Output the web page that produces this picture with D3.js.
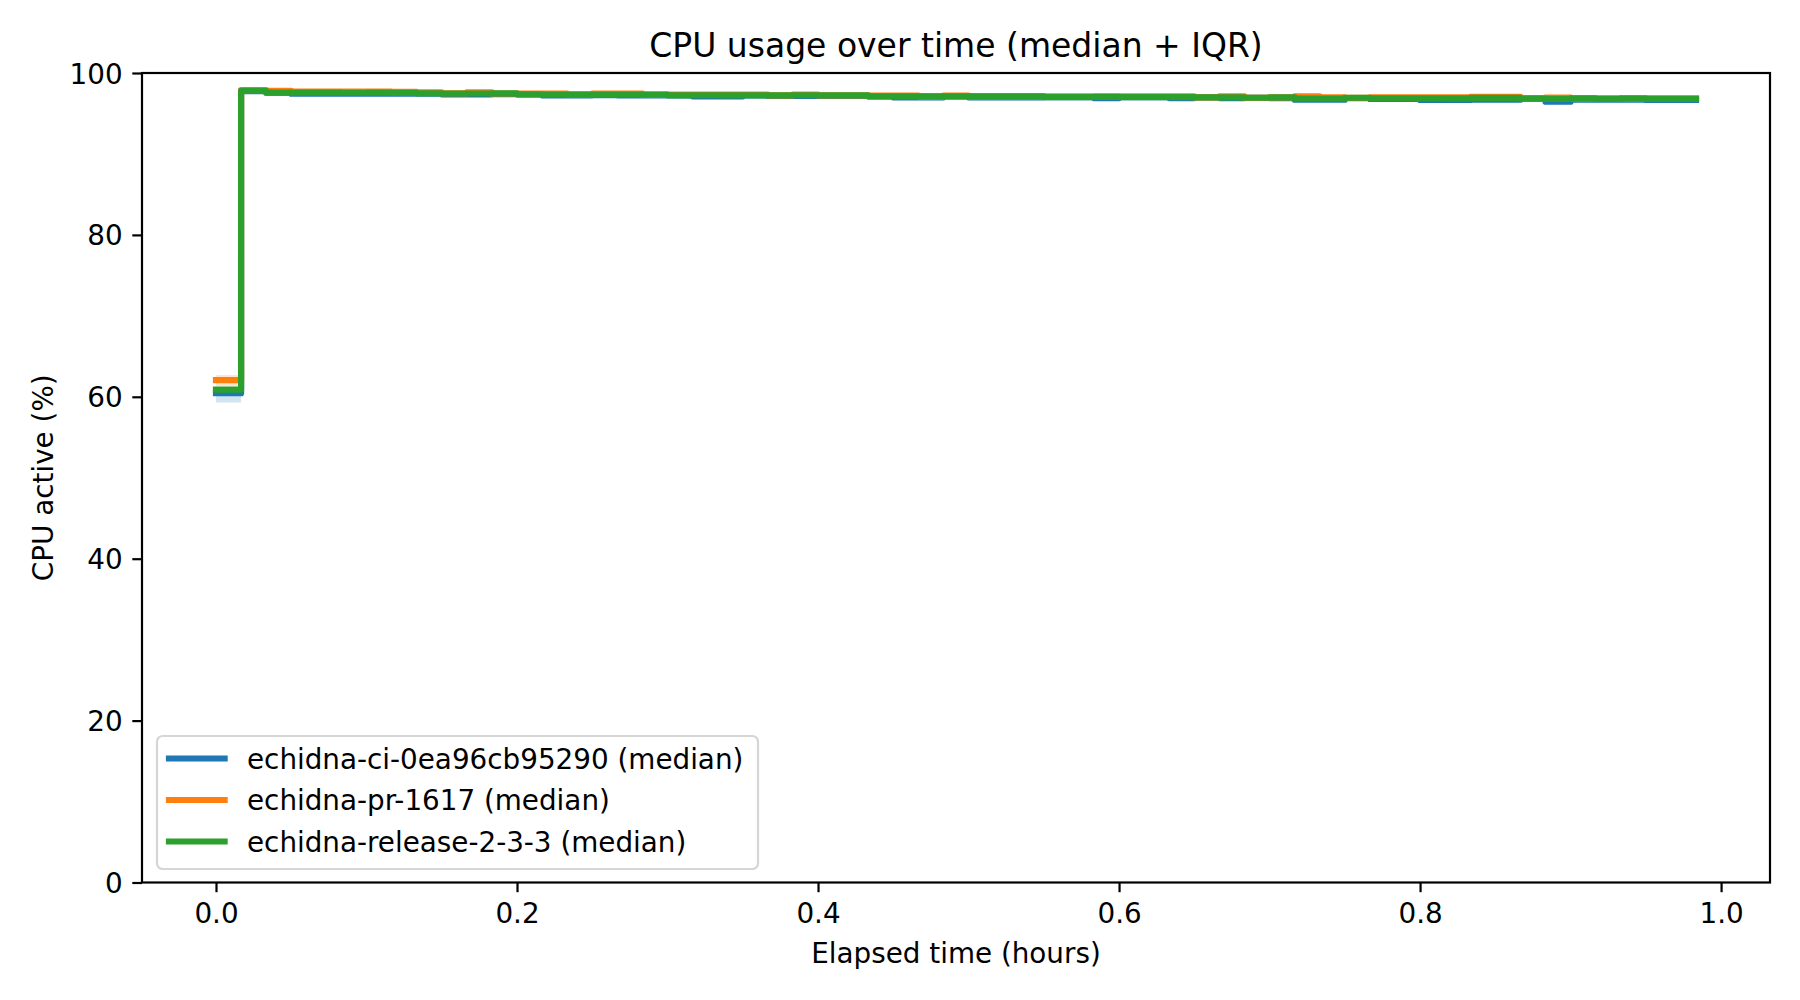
<!DOCTYPE html>
<html>
<head>
<meta charset="utf-8">
<script src="https://cdn.jsdelivr.net/npm/d3@7"></script>
<style>
  html, body { margin: 0; padding: 0; background: #ffffff; }
  svg { display: block; font-family: "DejaVu Sans", sans-serif; }
</style>
</head>
<body>
<svg id="chart" width="1800" height="1000"></svg>
<script>
// ---------------- DATA ----------------
const chartTitle = "CPU usage over time (median + IQR)";
const xLabel = "Elapsed time (hours)";
const yLabel = "CPU active (%)";

const seriesNames = [
  "echidna-ci-0ea96cb95290 (median)",
  "echidna-pr-1617 (median)",
  "echidna-release-2-3-3 (median)"
];
const seriesColors = ["#1f77b4", "#ff7f0e", "#2ca02c"];

const xTicks = [0.0, 0.2, 0.4, 0.6, 0.8, 1.0];
const yTicks = [0, 20, 40, 60, 80, 100];

// elapsed minutes of each sample
const elapsedMinutes = [0,1,2,3,4,5,6,7,8,9,10,11,12,13,14,15,16,17,18,19,20,21,22,23,24,25,26,27,28,29,
  30,31,32,33,34,35,36,37,38,39,40,41,42,43,44,45,46,47,48,49,50,51,52,53,54,55,56,57,58,59];

const ciMedian = [60.44, 97.75, 97.58, 97.45, 97.45, 97.44, 97.45, 97.45, 97.45, 97.36, 97.36, 97.4, 97.36, 97.24, 97.24,
  97.25, 97.24, 97.24, 97.24, 97.12, 97.12, 97.24, 97.16, 97.16, 97.16, 97.16, 97.12, 97.0, 97.0, 97.12,
  97.0, 97.0, 97.0, 97.03, 97.03, 96.9, 97.03, 97.03, 96.9, 96.98, 96.9, 96.94, 96.9, 96.71, 96.71,
  96.9, 96.8, 96.8, 96.68, 96.68, 96.71, 96.71, 96.83, 96.46, 96.71, 96.7, 96.7, 96.68, 96.68, 96.68];
const ciQ1 = [59.31, 97.6, 97.42, 97.3, 97.31, 97.29, 97.3, 97.31, 97.3, 97.22, 97.21, 97.26, 97.22, 97.1, 97.09,
  97.11, 97.1, 97.09, 97.1, 96.98, 96.97, 97.1, 97.02, 97.01, 97.02, 97.01, 96.97, 96.85, 96.86, 96.97,
  96.85, 96.86, 96.85, 96.88, 96.89, 96.75, 96.88, 96.89, 96.76, 96.83, 96.75, 96.8, 96.76, 96.56, 96.57,
  96.75, 96.66, 96.65, 96.53, 96.54, 96.57, 96.56, 96.69, 96.3, 96.57, 96.55, 96.56, 96.53, 96.54, 96.53];
const ciQ3 = [60.6, 97.88, 97.7, 97.58, 97.57, 97.57, 97.58, 97.57, 97.58, 97.49, 97.48, 97.53, 97.48, 97.37, 97.36,
  97.38, 97.37, 97.36, 97.37, 97.25, 97.24, 97.37, 97.29, 97.28, 97.29, 97.28, 97.25, 97.13, 97.12, 97.25,
  97.13, 97.12, 97.13, 97.16, 97.15, 97.03, 97.16, 97.15, 97.03, 97.11, 97.03, 97.07, 97.03, 96.84, 96.83,
  97.03, 96.93, 96.92, 96.81, 96.8, 96.84, 96.83, 96.96, 96.6, 96.84, 96.83, 96.82, 96.81, 96.8, 96.81];

const prMedian = [62.05, 97.9, 97.78, 97.69, 97.69, 97.7, 97.69, 97.68, 97.61, 97.5, 97.61, 97.47, 97.45, 97.45, 97.36,
  97.45, 97.45, 97.33, 97.32, 97.32, 97.32, 97.32, 97.24, 97.32, 97.24, 97.24, 97.2, 97.2, 97.12, 97.2,
  97.12, 97.12, 97.11, 97.12, 97.12, 97.13, 97.12, 97.12, 97.12, 97.0, 97.12, 96.94, 97.0, 97.12, 97.0,
  96.94, 96.98, 96.98, 96.98, 96.98, 97.04, 97.04, 96.9, 96.95, 96.87, 96.87, 96.85, 96.87, 96.87, 96.87];
const prQ1 = [61.3, 97.76, 97.64, 97.55, 97.56, 97.56, 97.55, 97.54, 97.47, 97.37, 97.47, 97.33, 97.31, 97.32, 97.22,
  97.31, 97.32, 97.19, 97.18, 97.19, 97.18, 97.19, 97.1, 97.18, 97.11, 97.1, 97.06, 97.07, 96.98, 97.06,
  96.99, 96.98, 96.97, 96.98, 96.99, 96.99, 96.98, 96.99, 96.98, 96.86, 96.98, 96.8, 96.86, 96.98, 96.86,
  96.8, 96.84, 96.85, 96.84, 96.85, 96.9, 96.91, 96.76, 96.81, 96.73, 96.74, 96.71, 96.73, 96.74, 96.73];
const prQ3 = [62.7, 98.02, 97.9, 97.82, 97.81, 97.83, 97.82, 97.8, 97.74, 97.63, 97.73, 97.6, 97.58, 97.57, 97.49,
  97.58, 97.57, 97.46, 97.45, 97.44, 97.45, 97.44, 97.37, 97.45, 97.36, 97.37, 97.33, 97.32, 97.25, 97.33,
  97.24, 97.25, 97.24, 97.25, 97.24, 97.26, 97.25, 97.24, 97.25, 97.13, 97.25, 97.07, 97.13, 97.25, 97.12,
  97.07, 97.11, 97.1, 97.11, 97.1, 97.17, 97.16, 97.03, 97.08, 97.0, 97.0, 96.98, 97.0, 96.99, 97.0];

const relMedian = [60.88, 97.78, 97.57, 97.57, 97.58, 97.56, 97.57, 97.55, 97.49, 97.47, 97.47, 97.49, 97.36, 97.33, 97.33,
  97.34, 97.32, 97.33, 97.24, 97.25, 97.24, 97.23, 97.24, 97.25, 97.24, 97.23, 97.12, 97.12, 97.13, 97.12,
  97.11, 97.12, 97.12, 97.03, 97.03, 97.04, 97.03, 97.02, 97.03, 96.98, 97.0, 96.94, 97.0, 96.85, 96.85,
  96.94, 96.87, 96.87, 96.88, 96.87, 96.92, 96.92, 96.83, 96.8, 96.87, 96.8, 96.87, 96.8, 96.8, 96.8];
const relQ1 = [60.6, 97.65, 97.44, 97.43, 97.45, 97.42, 97.44, 97.41, 97.36, 97.33, 97.34, 97.35, 97.23, 97.19, 97.2,
  97.2, 97.19, 97.19, 97.11, 97.11, 97.1, 97.1, 97.11, 97.11, 97.1, 97.1, 96.99, 96.98, 97.0, 96.98,
  96.98, 96.99, 96.98, 96.9, 96.89, 96.91, 96.9, 96.88, 96.9, 96.85, 96.86, 96.81, 96.86, 96.72, 96.71,
  96.81, 96.74, 96.73, 96.75, 96.74, 96.79, 96.78, 96.7, 96.66, 96.74, 96.67, 96.73, 96.67, 96.66, 96.67];
const relQ3 = [61.1, 97.9, 97.7, 97.7, 97.71, 97.69, 97.7, 97.68, 97.62, 97.6, 97.6, 97.62, 97.49, 97.46, 97.46,
  97.47, 97.45, 97.46, 97.37, 97.38, 97.37, 97.36, 97.37, 97.38, 97.37, 97.36, 97.25, 97.25, 97.26, 97.25,
  97.24, 97.25, 97.25, 97.16, 97.16, 97.17, 97.16, 97.15, 97.16, 97.11, 97.13, 97.07, 97.13, 96.98, 96.98,
  97.07, 97.0, 97.0, 97.01, 97.0, 97.05, 97.05, 96.96, 96.93, 97.0, 96.93, 97.0, 96.93, 96.93, 96.93];

// ---------------- LAYOUT ----------------
const W = 1800, H = 1000;
const plot = { left: 142, right: 1770, top: 73, bottom: 882.5 };
const FS = 27.8, FS_TITLE = 33;
const SPINE = 2.2, TICK = 9.7, PAD = 9.7, LW = 6.2;

const svg = d3.select("#chart");
svg.append("rect").attr("width", W).attr("height", H).attr("fill", "#ffffff");

const hours = elapsedMinutes.map(m => m / 60);
const xMin = d3.min(hours), xMax = d3.max(hours);
const margin = (xMax - xMin) * 0.05;
const x = d3.scaleLinear().domain([xMin - margin, xMax + margin]).range([plot.left, plot.right]);
const y = d3.scaleLinear().domain([0, 100]).range([plot.bottom, plot.top]);

const series = [
  { name: seriesNames[0], color: seriesColors[0], med: ciMedian, q1: ciQ1, q3: ciQ3 },
  { name: seriesNames[1], color: seriesColors[1], med: prMedian, q1: prQ1, q3: prQ3 },
  { name: seriesNames[2], color: seriesColors[2], med: relMedian, q1: relQ1, q3: relQ3 }
];

const clipId = "plotclip";
svg.append("clipPath").attr("id", clipId).append("rect")
  .attr("x", plot.left).attr("y", plot.top)
  .attr("width", plot.right - plot.left).attr("height", plot.bottom - plot.top);

const gPlot = svg.append("g").attr("clip-path", `url(#${clipId})`);

const area = d3.area().curve(d3.curveStepAfter)
  .x(d => x(d.t)).y0(d => y(d.lo)).y1(d => y(d.hi));
const line = d3.line().curve(d3.curveStepAfter)
  .x(d => x(d.t)).y(d => y(d.v));

series.forEach(s => {
  const n = Math.min(hours.length, s.med.length, s.q1.length, s.q3.length);
  const pts = d3.range(n).map(i => ({ t: hours[i], v: s.med[i], lo: s.q1[i], hi: s.q3[i] }));
  gPlot.append("path").datum(pts).attr("d", area)
    .attr("fill", s.color).attr("fill-opacity", 0.2).attr("stroke", "none");
  gPlot.append("path").datum(pts).attr("d", line)
    .attr("fill", "none").attr("stroke", s.color).attr("stroke-width", LW)
    .attr("stroke-linejoin", "round").attr("stroke-linecap", "square");
});

// ---------------- AXES ----------------
const xAxis = d3.axisBottom(x).tickValues(xTicks).tickFormat(d3.format(".1f"))
  .tickSize(TICK).tickPadding(PAD).tickSizeOuter(0);
const gx = svg.append("g").attr("transform", `translate(0,${plot.bottom})`).call(xAxis);
gx.select(".domain").remove();
gx.selectAll(".tick line").attr("stroke", "#000").attr("stroke-width", SPINE);
gx.selectAll(".tick text").attr("fill", "#000").attr("font-size", FS)
  .attr("font-family", "DejaVu Sans").attr("dy", "0.76em");

const yAxis = d3.axisLeft(y).tickValues(yTicks).tickFormat(d3.format("d"))
  .tickSize(TICK).tickPadding(PAD).tickSizeOuter(0);
const gy = svg.append("g").attr("transform", `translate(${plot.left},0)`).call(yAxis);
gy.select(".domain").remove();
gy.selectAll(".tick line").attr("stroke", "#000").attr("stroke-width", SPINE);
gy.selectAll(".tick text").attr("fill", "#000").attr("font-size", FS)
  .attr("font-family", "DejaVu Sans").attr("dy", "0.36em");

// spines
svg.append("rect")
  .attr("x", plot.left).attr("y", plot.top)
  .attr("width", plot.right - plot.left).attr("height", plot.bottom - plot.top)
  .attr("fill", "none").attr("stroke", "#000").attr("stroke-width", SPINE)
  .attr("stroke-linejoin", "miter");

// title and labels
const cx = (plot.left + plot.right) / 2;
const cy = (plot.top + plot.bottom) / 2;
svg.append("text").attr("x", cx).attr("y", 56.5).attr("text-anchor", "middle")
  .attr("font-size", FS_TITLE).attr("fill", "#000").text(chartTitle);
svg.append("text").attr("x", cx).attr("y", 963).attr("text-anchor", "middle")
  .attr("font-size", FS).attr("fill", "#000").text(xLabel);
svg.append("text").attr("transform", `translate(53,${cy}) rotate(-90)`)
  .attr("text-anchor", "middle").attr("font-size", FS).attr("fill", "#000").text(yLabel);

// ---------------- LEGEND ----------------
const leg = { x: 157, y: 736, w: 601, h: 133 };
const gl = svg.append("g");
gl.append("rect").attr("x", leg.x).attr("y", leg.y).attr("width", leg.w).attr("height", leg.h)
  .attr("rx", 5.6).attr("ry", 5.6)
  .attr("fill", "#ffffff").attr("fill-opacity", 0.8)
  .attr("stroke", "#cccccc").attr("stroke-opacity", 0.8).attr("stroke-width", 2.2);
const rowY = d3.scalePoint().domain(seriesNames).range([758.5, 841.5]);
series.forEach(s => {
  const yy = rowY(s.name);
  gl.append("line").attr("x1", 169).attr("x2", 224.6).attr("y1", yy).attr("y2", yy)
    .attr("stroke", s.color).attr("stroke-width", LW).attr("stroke-linecap", "square");
  gl.append("text").attr("x", 247).attr("y", yy + 10).attr("font-size", FS)
    .attr("fill", "#000").text(s.name);
});
</script>
</body>
</html>
